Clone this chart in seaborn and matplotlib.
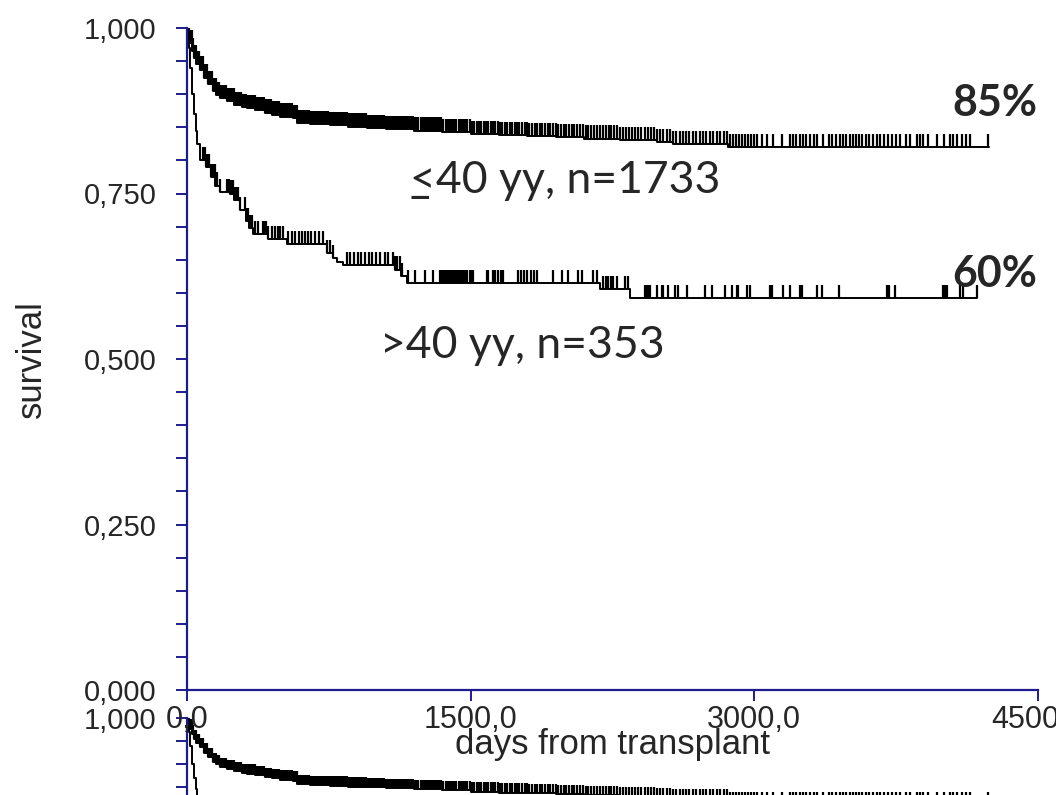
import numpy as np
import matplotlib
matplotlib.use("Agg")
import matplotlib.pyplot as plt
from matplotlib.ticker import FixedLocator, MultipleLocator
import seaborn as sns

# Kaplan-Meier estimate, recipients aged 40 or younger (n=1733)
young_t = [0, 5, 10, 16, 25, 35, 50, 69, 90, 110, 135, 155, 175, 210, 250, 290,
           317, 360, 410, 450, 492, 560, 582, 650, 756, 850, 950, 1050, 1200,
           1350, 1500, 1650, 1800, 1950, 2100, 2290, 2485, 2570, 2861, 4241]
young_s = [1.0, 0.99, 0.983, 0.977, 0.965, 0.955, 0.945, 0.937, 0.925, 0.915,
           0.905, 0.899, 0.894, 0.889, 0.884, 0.881, 0.879, 0.876, 0.872, 0.869,
           0.866, 0.864, 0.856, 0.855, 0.853, 0.851, 0.849, 0.847, 0.845, 0.843,
           0.840, 0.838, 0.837, 0.835, 0.833, 0.831, 0.828, 0.825, 0.820, 0.820]
young_censor = [
    12, 18, 24, 30, 36, 41, 47, 53, 58, 64, 70, 75, 81, 87, 92, 98, 104, 110,
    116, 121, 127, 133, 139, 145, 151, 157, 163, 170, 176, 182, 188, 195, 201,
    207, 214, 220, 227, 233, 240, 246, 253, 259, 266, 272, 279, 285, 292, 298,
    305, 312, 318, 325, 332, 339, 345, 352, 359, 366, 373, 380, 387, 394, 401,
    408, 415, 423, 430, 437, 444, 452, 459, 466, 474, 481, 489, 496, 504, 511,
    519, 527, 534, 542, 550, 557, 565, 573, 581, 590, 598, 606, 614, 622, 630,
    639, 647, 655, 663, 672, 680, 688, 697, 705, 714, 722, 731, 739, 748, 757,
    765, 774, 783, 791, 800, 809, 818, 827, 836, 845, 854, 863, 872, 881, 890,
    899, 909, 918, 927, 936, 946, 955, 964, 974, 983, 993, 1002, 1012, 1021,
    1031, 1041, 1050, 1060, 1070, 1080, 1090, 1100, 1110, 1120, 1131, 1141,
    1151, 1161, 1172, 1182, 1193, 1203, 1214, 1224, 1235, 1246, 1257, 1267,
    1278, 1289, 1300, 1311, 1322, 1334, 1345, 1356, 1367, 1379, 1390, 1402,
    1413, 1425, 1436, 1448, 1460, 1471, 1483, 1495, 1507, 1519, 1531, 1543,
    1555, 1568, 1580, 1592, 1605, 1617, 1630, 1642, 1655, 1668, 1680, 1693,
    1706, 1719, 1732, 1745, 1758, 1771, 1785, 1798, 1811, 1825, 1838, 1852,
    1866, 1879, 1893, 1907, 1921, 1935, 1949, 1963, 1977, 1991, 2006, 2020,
    2035, 2049, 2064, 2078, 2093, 2108, 2123, 2138, 2153, 2168, 2183, 2198,
    2214, 2229, 2244, 2260, 2276, 2291, 2307, 2323, 2339, 2355, 2371, 2387,
    2403, 2420, 2436, 2453, 2469, 2486, 2503, 2519, 2536, 2553, 2570, 2588,
    2605, 2622, 2640, 2657, 2675, 2693, 2711, 2729, 2747, 2765, 2783, 2801,
    2820, 2838, 2856, 2871, 2887, 2903, 2919, 2935, 2951, 2967, 2982, 2998,
    3014, 3041, 3067, 3099, 3146, 3189, 3205, 3220, 3242, 3257, 3273, 3294,
    3316, 3331, 3363, 3395, 3411, 3432, 3453, 3469, 3485, 3506, 3522, 3538,
    3554, 3569, 3591, 3607, 3628, 3649, 3665, 3686, 3707, 3728, 3749, 3770,
    3802, 3823, 3860, 3876, 3892, 3918, 3966, 4003, 4035, 4051, 4072, 4098,
    4119, 4140, 4236]

# Kaplan-Meier estimate, recipients older than 40 (n=353)
old_t = [0, 8, 15, 25, 35, 45, 55, 69, 79, 100, 125, 150, 175, 227, 250, 280,
         310, 330, 349, 428, 528, 720, 740, 770, 793, 825, 1073, 1100, 1130,
         1163, 2184, 2342, 4178]
old_s = [1.0, 0.97, 0.94, 0.90, 0.87, 0.845, 0.825, 0.80, 0.80, 0.79, 0.775,
         0.762, 0.752, 0.750, 0.74, 0.725, 0.708, 0.698, 0.689, 0.681, 0.674,
         0.674, 0.66, 0.652, 0.647, 0.642, 0.642, 0.635, 0.625, 0.615, 0.606,
         0.592, 0.592]
old_censor = [
    85, 90, 95, 100, 105, 111, 118, 125, 132, 140, 148, 159, 175, 212, 220,
    228, 236, 244, 252, 262, 270, 280, 307, 316, 325, 334, 344, 360, 375, 402,
    410, 418, 428, 449, 465, 481, 492, 508, 534, 555, 571, 590, 607, 624, 640,
    658, 676, 697, 719, 740, 756, 772, 846, 864, 883, 902, 921, 940, 960, 980,
    1000, 1021, 1047, 1063, 1089, 1101, 1113, 1125, 1137, 1169, 1206, 1259,
    1301, 1338, 1348, 1358, 1368, 1378, 1388, 1398, 1408, 1418, 1428, 1438,
    1448, 1458, 1470, 1482, 1494, 1504, 1512, 1586, 1592, 1618, 1631, 1645,
    1658, 1671, 1750, 1767, 1784, 1800, 1817, 1834, 1851, 1935, 1983, 2015,
    2068, 2089, 2147, 2168, 2200, 2213, 2226, 2240, 2255, 2274, 2316, 2332,
    2422, 2431, 2440, 2448, 2485, 2512, 2517, 2544, 2581, 2596, 2644, 2739,
    2776, 2845, 2882, 2908, 2914, 2961, 2977, 3083, 3094, 3152, 3189, 3242,
    3252, 3331, 3358, 3448, 3702, 3712, 3744, 3998, 4008, 4019, 4088, 4104,
    4178]

x_ticks = [0, 1500, 3000, 4500]
x_tick_labels = ["0,0", "1500,0", "3000,0", "4500,0"]
y_ticks = [0.0, 0.25, 0.5, 0.75, 1.0]
y_tick_labels = ["0,000", "0,250", "0,500", "0,750", "1,000"]

young_label = "40 yy, n=1733"
old_label = ">40 yy, n=353"
young_pct = "85%"
old_pct = "60%"

AXIS_BLUE = "#1c1c8e"
CENSOR_H = 0.02

sns.set_theme(style="white")
plt.rcParams["font.family"] = ["Liberation Sans", "DejaVu Sans"]

W, H = 1056, 795
fig = plt.figure(figsize=(W / 100, H / 100), dpi=100)
fig.patch.set_facecolor("white")


def px_axes(left, top, right, bottom):
    return [left / W, 1 - bottom / H, (right - left) / W, (bottom - top) / H]


def draw_km(ax, t, s, censor, lw=1.4):
    sns.lineplot(x=t, y=s, drawstyle="steps-post", color="black",
                 linewidth=lw, ax=ax, errorbar=None, legend=False)
    t_arr = np.asarray(t)
    s_arr = np.asarray(s)
    c_arr = np.asarray(censor)
    idx = np.searchsorted(t_arr, c_arr, side="right") - 1
    base = s_arr[idx]
    ax.vlines(c_arr, base, base + CENSOR_H, color="black", linewidth=1.6)


def style_axes(ax):
    ax.set_xlim(0, 4500)
    ax.set_ylim(0, 1)
    for side in ("top", "right"):
        ax.spines[side].set_visible(False)
    for side in ("left", "bottom"):
        ax.spines[side].set_color(AXIS_BLUE)
        ax.spines[side].set_linewidth(1.6)
    ax.xaxis.set_major_locator(FixedLocator(x_ticks))
    ax.yaxis.set_major_locator(FixedLocator(y_ticks))
    ax.yaxis.set_minor_locator(MultipleLocator(0.05))
    ax.tick_params(axis="both", which="both", direction="out", color=AXIS_BLUE,
                   width=1.4, length=8, bottom=True, left=True)
    ax.patch.set_alpha(0)


# second, lower panel peeking in from beneath the main chart
ghost = fig.add_axes(px_axes(187, 718, 1038, 718 + 460))
style_axes(ghost)
draw_km(ghost, young_t, young_s, young_censor)
draw_km(ghost, old_t, old_s, old_censor)
ghost.set_xticks(x_ticks)
ghost.set_xticklabels([])
ghost.set_yticks(y_ticks)
ghost.set_yticklabels(y_tick_labels, fontsize=21)
ghost.tick_params(axis="y", pad=14)
ghost.set_xlabel("")
ghost.set_ylabel("")

ax = fig.add_axes(px_axes(187, 28, 1038, 690))
style_axes(ax)
draw_km(ax, young_t, young_s, young_censor)
draw_km(ax, old_t, old_s, old_censor)

ax.set_xticks(x_ticks)
ax.set_xticklabels(x_tick_labels, fontsize=22)
ax.set_yticks(y_ticks)
ax.set_yticklabels(y_tick_labels, fontsize=21)
ax.tick_params(axis="y", pad=14)
ax.tick_params(axis="x", pad=3)
for lab in ax.get_xticklabels():
    lab.set_clip_on(False)

ax.set_xlabel("days from transplant", fontsize=25)
ax.xaxis.set_label_coords(0.5, -0.058)
ax.set_ylabel("survival", fontsize=25)
ax.yaxis.set_label_coords(-0.163, 0.5)

# curve annotations
ax.text(1179, 0.770, "<" + young_label, fontsize=32, family="Lato",
        va="center", ha="left")
ax.text(1179, 0.770, "_", fontsize=32, family="Lato", va="center", ha="left")
ax.text(1020, 0.521, old_label, fontsize=32, family="Lato", va="center",
        ha="left")
ax.text(4495, 0.867, young_pct, fontsize=31, family="Lato", weight="bold",
        va="baseline", ha="right", clip_on=False)
ax.text(4495, 0.609, old_pct, fontsize=31, family="Lato", weight="bold",
        va="baseline", ha="right", clip_on=False)

fig.savefig("out.png", dpi=100)
